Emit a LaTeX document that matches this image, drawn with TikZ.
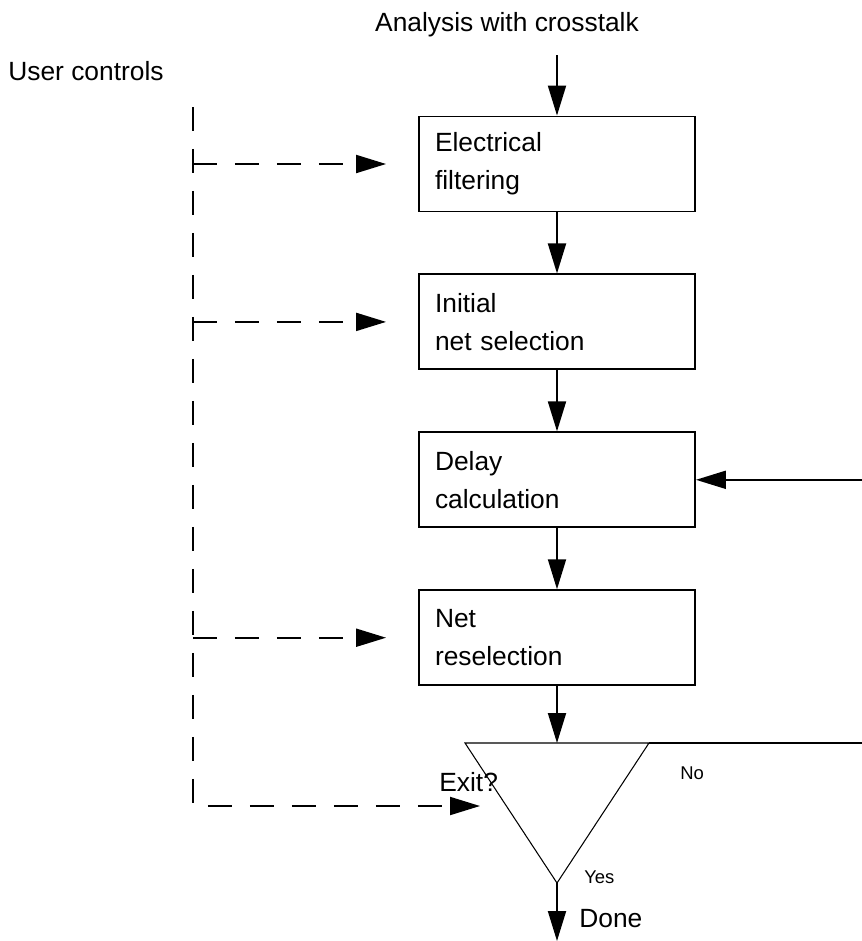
\documentclass[tikz,border=0pt]{standalone}
\usepackage{fontspec}
\setmainfont{Liberation Sans}
\usetikzlibrary{calc,arrows.meta,positioning}
\tikzset{
  stage/.style={draw, line width=1.1pt, minimum width=5.52cm, minimum height=1.9cm,
    text width=4.88cm, inner xsep=0.32cm, align=left,
    font=\fontsize{15}{21.6}\selectfont},
  flow/.style={line width=1.1pt, -{Triangle[length=6mm,width=3.6mm]}},
  ctl/.style={line width=1.1pt, dash pattern=on 4.8mm off 3.6mm},
  ctlarr/.style={ctl, -{Triangle[length=6mm,width=3.6mm]}},
  tri/.style={draw, line width=0.6pt, line join=miter},
  lab/.style={font=\fontsize{15}{17}\selectfont, inner sep=0pt},
  labs/.style={font=\fontsize{10.5}{12}\selectfont, inner sep=0pt},
}

\begin{document}
\begin{tikzpicture}[x=0.02cm, y=-0.02cm]
\useasboundingbox (0,0) rectangle (862,941);

% stages
\node[stage] (elec) at (557,164) {Electrical\\filtering};
\node[stage, below=1.22cm of elec] (init) {Initial\\net selection};
\node[stage, below=1.22cm of init] (delay) {Delay\\calculation};
\node[stage, below=1.22cm of delay] (resel) {Net\\reselection};

% exit test
\coordinate (tril) at (465,743);
\coordinate (trir) at (649,743);
\coordinate (tritop) at (557,743);
\coordinate (apex) at (557,883);
\draw[tri] (tril) -- (trir) -- (apex) -- cycle;

% labels
\node[lab] (anl) at (507,25) {Analysis with crosstalk};
\node[lab, anchor=west] (user) at (8,71) {User controls};
\node[lab, anchor=west] (exit) at (439,782) {Exit?};
\node[labs, anchor=west] (no) at (680,773) {No};
\node[labs, anchor=west] (yes) at (584,877) {Yes};
\node[lab, anchor=west] (done) at (579,919) {Done};

% main flow
\coordinate (start) at (557,55);
\coordinate (finish) at (557,941);
\draw[flow] (start) -- (elec.north);
\draw[flow] (elec) -- (init);
\draw[flow] (init) -- (delay);
\draw[flow] (delay) -- (resel);
\draw[flow] (resel.south) -- (tritop);
\draw[flow] (apex) -- (finish);

% loop back (No)
\coordinate (fbtop) at (862,743);
\coordinate (fbin) at (delay.east -| fbtop);
\draw[line width=1.1pt] (trir) -- (fbtop);
\draw[flow] (fbin) -- (delay.east);

% user controls
\coordinate (ctltop) at (193,107);
\coordinate (ctlbot) at (193,806);
\coordinate (exitl) at (506,806);
\coordinate (c1) at (elec.west -| ctltop);
\coordinate (c2) at (init.west -| ctltop);
\coordinate (c4) at (resel.west -| ctltop);
\draw[ctlarr, shorten >=0.52cm] (ctltop) -- (ctlbot) -- (exitl);
\draw[ctlarr, shorten >=0.64cm] (c1) -- (elec.west);
\draw[ctlarr, shorten >=0.64cm] (c2) -- (init.west);
\draw[ctlarr, shorten >=0.64cm] (c4) -- (resel.west);
\end{tikzpicture}
\end{document}
